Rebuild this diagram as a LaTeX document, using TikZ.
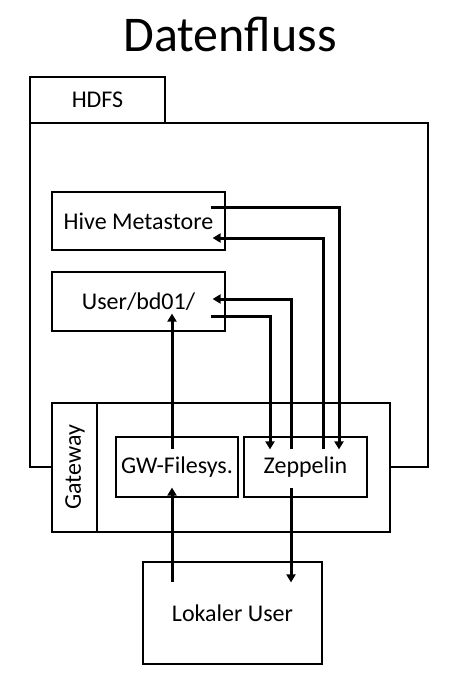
\documentclass[tikz,border=0pt]{standalone}
\usepackage{fontspec}
\setmainfont{Carlito}
\usetikzlibrary{arrows.meta}

\tikzset{
  box/.style={draw, line width=1.2pt, inner sep=0pt, fill=white,
    font=\fontsize{24}{28}\selectfont},
  flow/.style={line width=3pt, -{Triangle[length=8pt,width=9pt]}}
}

\begin{document}
\begin{tikzpicture}[x=1pt,y=-1pt]
  \useasboundingbox (0,0) rectangle (464,683);

  \node[font=\fontsize{50}{60}\selectfont] (title) at (230,34) {Datenfluss};

  %% HDFS
  \node[box, minimum width=135pt, minimum height=46pt] (tab) at (97.5,100) {HDFS};
  \node[box, minimum width=398pt, minimum height=344pt] (hdfs) at (229,295) {};

  \node[box, minimum width=173pt, minimum height=58pt] (hive) at (138.5,221) {Hive Metastore};
  \node[box, minimum width=173pt, minimum height=59pt] (user) at (138.5,301.5) {User/bd01/};

  %% Gateway
  \node[box, minimum width=338pt, minimum height=129pt] (gw) at (221,467.5) {};
  \draw[line width=2pt] ([xshift=46pt]gw.north west) -- ([xshift=46pt]gw.south west);
  \node[font=\fontsize{24}{28}\selectfont, rotate=90] (gwlabel) at (75,467.5) {Gateway};

  \node[box, minimum width=122pt, minimum height=60pt] (gwfs) at (177,467) {GW-Filesys.};
  \node[box, minimum width=123pt, minimum height=60pt] (zep) at (305.5,467) {Zeppelin};

  %% Lokal
  \node[box, minimum width=179pt, minimum height=102pt] (lokal) at (232.5,613) {Lokaler User};

  %% Metastore
  \draw[flow] ([xshift=-15pt,yshift=14pt]hive.east) -| ([xshift=33.5pt,yshift=-13pt]zep.north);
  \draw[flow] ([xshift=17.5pt,yshift=-13pt]zep.north) |- ([xshift=-13pt,yshift=-17pt]hive.east);

  %% User dir
  \draw[flow] ([xshift=-14.5pt,yshift=-13pt]zep.north) |- ([xshift=-13pt,yshift=2.5pt]user.east);
  \draw[flow] ([xshift=-15pt,yshift=-14.5pt]user.east) -| ([xshift=-35.5pt,yshift=-13pt]zep.north);
  \draw[flow] ([xshift=-5pt,yshift=-13pt]gwfs.north) -- ([xshift=-5pt,yshift=18pt]gwfs.north |- user.south);

  %% Lokal
  \draw[flow] ([xshift=-5pt,yshift=-21pt]gwfs.north |- lokal.north) -- ([xshift=-5pt,yshift=10pt]gwfs.south);
  \draw[flow] ([xshift=-14.5pt,yshift=10pt]zep.south) -- ([xshift=-14.5pt,yshift=-21pt]zep.south |- lokal.north);

\end{tikzpicture}
\end{document}
